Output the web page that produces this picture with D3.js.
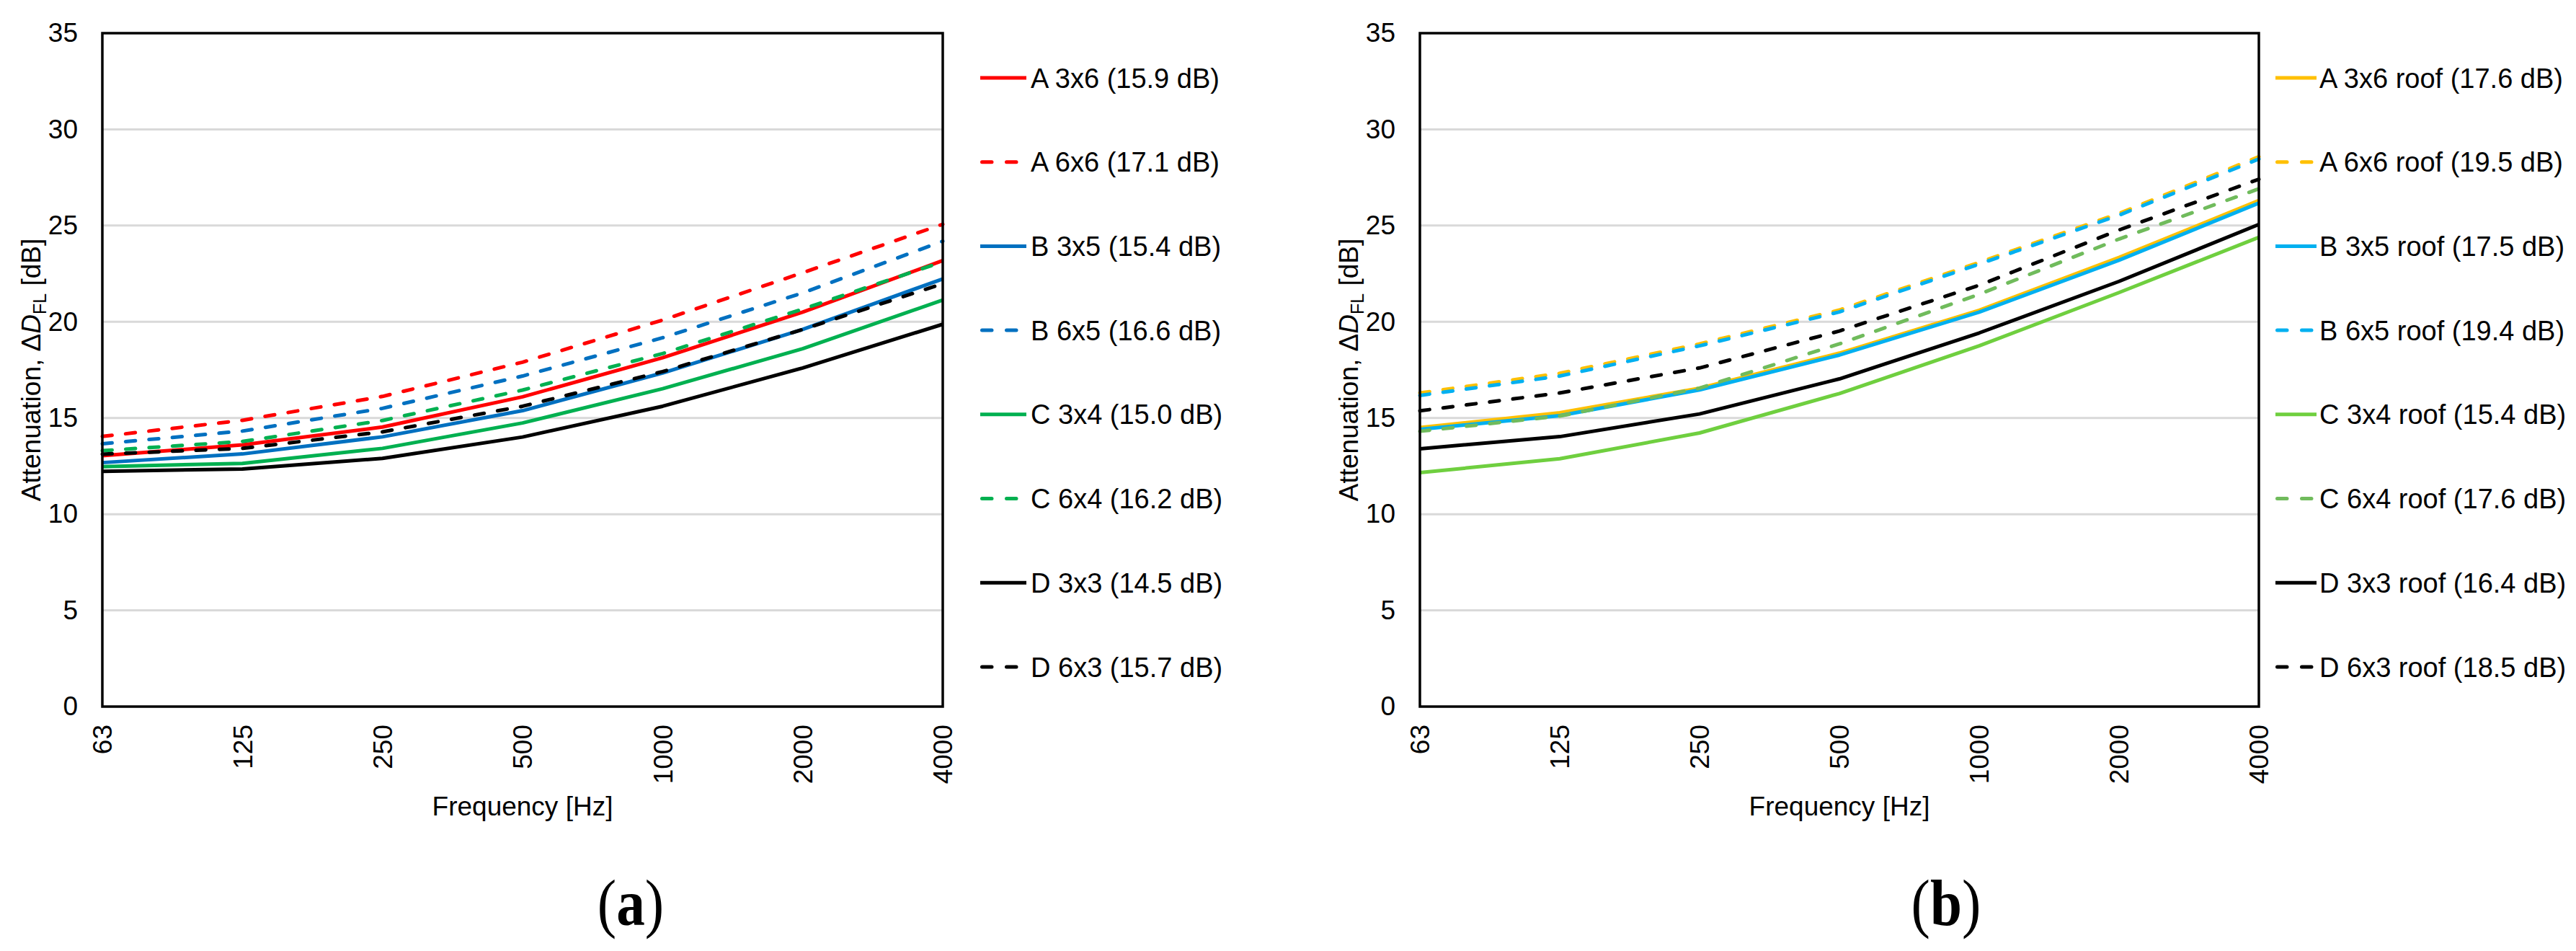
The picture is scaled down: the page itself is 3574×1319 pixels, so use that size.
<!DOCTYPE html>
<html>
<head>
<meta charset="utf-8">
<script src="https://cdn.jsdelivr.net/npm/d3@7"></script>
<style>
  body { margin: 0; background: #fff; }
  text { font-family: "Liberation Sans", Arial, sans-serif; fill: #000; }
</style>
</head>
<body>
<script>
// frequency bands and axis ticks
var freqs = ["63", "125", "250", "500", "1000", "2000", "4000"];
var yTicks = [0, 5, 10, 15, 20, 25, 30, 35];

// (a) without roof
var labelsA = ["A 3x6 (15.9 dB)", "A 6x6 (17.1 dB)", "B 3x5 (15.4 dB)", "B 6x5 (16.6 dB)",
               "C 3x4 (15.0 dB)", "C 6x4 (16.2 dB)", "D 3x3 (14.5 dB)", "D 6x3 (15.7 dB)"];
var a3x6 = [13.04, 13.60, 14.53, 16.10, 18.13, 20.50, 23.18];
var a6x6 = [14.04, 14.88, 16.12, 17.90, 20.09, 22.55, 25.07];
var b3x5 = [12.68, 13.13, 14.02, 15.38, 17.34, 19.60, 22.23];
var b6x5 = [13.66, 14.32, 15.50, 17.18, 19.17, 21.50, 24.19];
var c3x4 = [12.47, 12.64, 13.42, 14.74, 16.52, 18.60, 21.13];
var c6x4 = [13.30, 13.78, 14.87, 16.45, 18.35, 20.66, 23.12];
var d3x3 = [12.23, 12.35, 12.90, 14.01, 15.61, 17.60, 19.87];
var d6x3 = [13.12, 13.42, 14.28, 15.61, 17.41, 19.60, 21.98];

// (b) with roof
var labelsB = ["A 3x6 roof (17.6 dB)", "A 6x6 roof (19.5 dB)", "B 3x5 roof (17.5 dB)", "B 6x5 roof (19.4 dB)",
               "C 3x4 roof (15.4 dB)", "C 6x4 roof (17.6 dB)", "D 3x3 roof (16.4 dB)", "D 6x3 roof (18.5 dB)"];
var a3x6r = [14.50, 15.27, 16.55, 18.37, 20.60, 23.34, 26.30];
var a6x6r = [16.30, 17.32, 18.85, 20.61, 23.09, 25.63, 28.58];
var b3x5r = [14.41, 15.12, 16.46, 18.27, 20.50, 23.20, 26.17];
var b6x5r = [16.17, 17.18, 18.75, 20.51, 23.00, 25.54, 28.46];
var c3x4r = [12.16, 12.88, 14.22, 16.27, 18.75, 21.52, 24.39];
var c6x4r = [14.31, 15.10, 16.55, 18.85, 21.43, 24.30, 26.91];
var d3x3r = [13.40, 14.03, 15.21, 17.03, 19.42, 22.10, 25.06];
var d6x3r = [15.37, 16.30, 17.60, 19.52, 21.90, 24.77, 27.41];

var colorsA = ["#ff0000", "#ff0000", "#0070c0", "#0070c0", "#00b050", "#00b050", "#000000", "#000000"];
var colorsB = ["#ffc000", "#ffc000", "#00b0f0", "#00b0f0", "#6fcf3f", "#70bb5c", "#000000", "#000000"];
var dashed = [false, true, false, true, false, true, false, true];

var W = 3574, H = 1319;

var svg = d3.select("body").append("svg")
    .attr("width", W)
    .attr("height", H);

svg.append("rect").attr("width", W).attr("height", H).attr("fill", "#fff");

function panel(series, labels, colors, lay) {
  var x = d3.scalePoint().domain(freqs).range([lay.left, lay.right]).padding(0);
  var y = d3.scaleLinear().domain([0, 35]).range([lay.bottom, lay.top]);
  var g = svg.append("g");

  // gridlines
  g.append("g").selectAll("line")
      .data(yTicks.filter(function(d) { return d > 0 && d < 35; }))
    .enter().append("line")
      .attr("x1", lay.left).attr("x2", lay.right)
      .attr("y1", function(d) { return y(d); })
      .attr("y2", function(d) { return y(d); })
      .attr("stroke", "#d9d9d9")
      .attr("stroke-width", 3);

  // y tick labels
  var yAxis = d3.axisLeft(y).tickValues(yTicks).tickSize(0).tickPadding(34);
  var ya = g.append("g").attr("transform", "translate(" + lay.left + ",0)").call(yAxis);
  ya.select(".domain").remove();
  ya.selectAll("text").style("font-size", "37px").attr("fill", "#000")
      .style("font-family", '"Liberation Sans", Arial, sans-serif');

  // x tick labels, rotated
  var xAxis = d3.axisBottom(x).tickSize(0);
  var xa = g.append("g").attr("transform", "translate(0," + lay.bottom + ")").call(xAxis);
  xa.select(".domain").remove();
  xa.selectAll("text")
      .style("font-size", "37px").attr("fill", "#000")
      .style("font-family", '"Liberation Sans", Arial, sans-serif')
      .attr("text-anchor", "end")
      .attr("dy", "0.35em")
      .attr("transform", "translate(0,25) rotate(-90)")
      .attr("x", 0).attr("y", 0);

  // series lines
  var line = d3.line()
      .x(function(d, i) { return x(freqs[i]); })
      .y(function(d) { return y(d); });

  series.forEach(function(s, k) {
    g.append("path")
        .attr("d", line(s))
        .attr("fill", "none")
        .attr("stroke", colors[k])
        .attr("stroke-width", 5)
        .attr("stroke-linejoin", "round")
        .attr("stroke-linecap", dashed[k] ? "round" : "butt")
        .attr("stroke-dasharray", dashed[k] ? "13.5,19" : null);
  });

  // plot frame
  g.append("rect")
      .attr("x", lay.left).attr("y", lay.top)
      .attr("width", lay.right - lay.left)
      .attr("height", lay.bottom - lay.top)
      .attr("fill", "none")
      .attr("stroke", "#000")
      .attr("stroke-width", 3.5);

  // axis titles
  g.append("text")
      .attr("x", (lay.left + lay.right) / 2)
      .attr("y", 1131)
      .attr("text-anchor", "middle")
      .style("font-size", "37px")
      .text("Frequency [Hz]");

  var yt = g.append("text")
      .attr("transform", "translate(" + (lay.left - 86) + "," + ((lay.top + lay.bottom) / 2) + ") rotate(-90)")
      .attr("text-anchor", "middle")
      .style("font-size", "37px");
  yt.append("tspan").text("Attenuation, \u0394");
  yt.append("tspan").style("font-style", "italic").text("D");
  yt.append("tspan").attr("dy", 8).style("font-size", "25px").text("FL");
  yt.append("tspan").attr("dy", -8).text(" [dB]");

  // legend
  var leg = g.append("g").selectAll("g")
      .data(labels)
    .enter().append("g")
      .attr("transform", function(d, i) { return "translate(0," + (108 + i * 116.7) + ")"; });

  leg.append("line")
      .attr("x1", function(d, i) { return dashed[i] ? lay.legX1 + 2.5 : lay.legX1; })
      .attr("x2", lay.legX2)
      .attr("stroke", function(d, i) { return colors[i]; })
      .attr("stroke-width", 5)
      .attr("stroke-linecap", function(d, i) { return dashed[i] ? "round" : "butt"; })
      .attr("stroke-dasharray", function(d, i) { return dashed[i] ? "13.5,20.5" : null; });

  leg.append("text")
      .attr("x", lay.legText)
      .attr("dy", "0.36em")
      .style("font-size", "38px")
      .text(function(d) { return d; });

  // caption
  var cap = g.append("text")
      .attr("transform", "translate(" + lay.capX + ",1283) scale(0.88,1)")
      .attr("text-anchor", "middle")
      .style("font-family", '"Liberation Serif", "Times New Roman", serif')
      .style("font-size", "90px");
  cap.append("tspan").text("(");
  cap.append("tspan").style("font-weight", "bold").text(lay.cap);
  cap.append("tspan").text(")");
}

panel([a3x6, a6x6, b3x5, b6x5, c3x4, c6x4, d3x3, d6x3], labelsA, colorsA,
      {left: 142, right: 1308, top: 46, bottom: 980, legX1: 1360, legX2: 1424, legText: 1430, capX: 875, cap: "a"});
panel([a3x6r, a6x6r, b3x5r, b6x5r, c3x4r, c6x4r, d3x3r, d6x3r], labelsB, colorsB,
      {left: 1970, right: 3134, top: 46, bottom: 980, legX1: 3157, legX2: 3214, legText: 3218, capX: 2700, cap: "b"});
</script>
</body>
</html>
